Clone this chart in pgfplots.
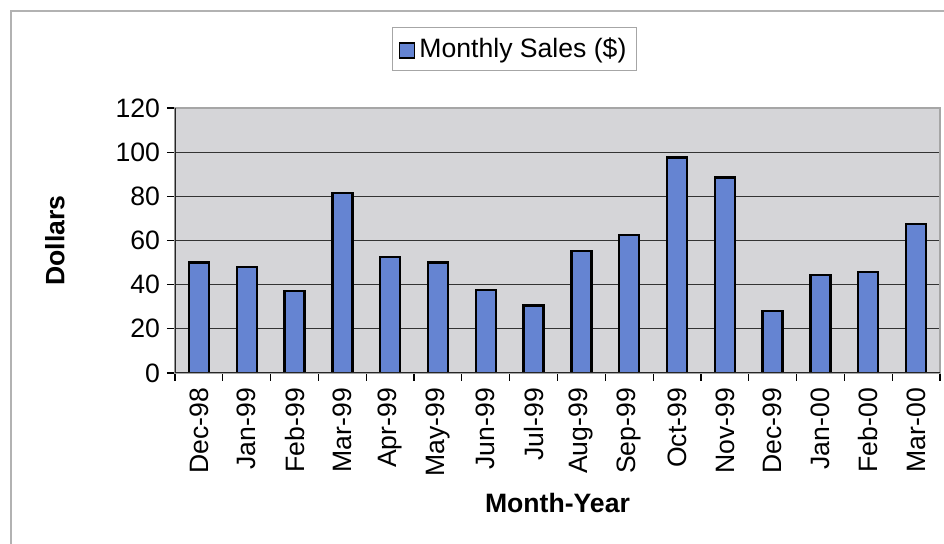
\documentclass[border=0pt]{standalone}
\usepackage{pgfplots}
\pgfplotsset{compat=1.18}
\usepackage{fontspec}
\setmainfont{Liberation Sans}
\definecolor{barblue}{RGB}{101,132,210}
\definecolor{plotbg}{RGB}{213,213,216}
\begin{document}
\begin{tikzpicture}
\path[use as bounding box] (0pt,0pt) rectangle (472pt,272pt);
\draw[gray!60, line width=0.8pt] (5.5pt,0pt) -- (5.5pt,266.5pt) -- (472pt,266.5pt);
\begin{axis}[
  at={(87.5pt,85.5pt)}, anchor=south west,
  scale only axis, width=382.5pt, height=132.5pt,
  xmin=-0.5, xmax=15.5, ymin=0, ymax=120,
  ytick={0,20,...,120},
  xtick={0,...,15},
  xticklabels={Dec-98,Jan-99,Feb-99,Mar-99,Apr-99,May-99,Jun-99,Jul-99,Aug-99,Sep-99,Oct-99,Nov-99,Dec-99,Jan-00,Feb-00,Mar-00},
  minor xtick={-0.5,0.5,...,15.5},
  major x tick style={draw=none},
  tick align=outside,
  major tick length=4pt, minor tick length=4pt,
  tick style={black, line width=0.6pt},
  xtick pos=bottom, ytick pos=left,
  ymajorgrids, major grid style={black!80, line width=0.6pt},
  axis background/.style={fill=plotbg},
  axis line style={gray!70, line width=0.8pt},
  /pgf/number format/assume math mode=true,
  ticklabel style={font=\fontsize{13.3}{15}\selectfont},
  xticklabel style={rotate=90, anchor=east, yshift=0pt},
  xlabel={\textbf{Month-Year}},
  ylabel={\textbf{Dollars}},
  label style={font=\fontsize{13.3}{15}\selectfont},
  xlabel style={at={(axis description cs:0.5,-0.4906)}, anchor=center},
  ylabel style={at={(axis description cs:-0.157,0.5)}, anchor=center, rotate=0},
  legend style={at={(axis description cs:0.444,1.223)}, anchor=center,
    draw=gray!70, line width=0.6pt, fill=white,
    font=\fontsize{13.3}{15}\selectfont, inner xsep=3pt, inner ysep=3pt},
  legend image code/.code={\draw[#1, line width=0.8pt] (0pt,-4.5pt) rectangle (7.5pt,3pt);},
]
\addplot[ybar, bar width=10pt, fill=barblue, draw=black, line width=1.2pt, bar shift=0pt]
  coordinates {(0,50) (1,48) (2,37) (3,81.5) (4,52.4) (5,50) (6,37.7) (7,30.5)
               (8,55.3) (9,62.5) (10,97.5) (11,88.5) (12,28) (13,44.3) (14,45.8) (15,67.6)};
\legend{Monthly Sales (\$)}
\draw[black!85, line width=0.8pt] (rel axis cs:0,1) -- (rel axis cs:0,0) -- (rel axis cs:1,0);
\end{axis}
\end{tikzpicture}
\end{document}
